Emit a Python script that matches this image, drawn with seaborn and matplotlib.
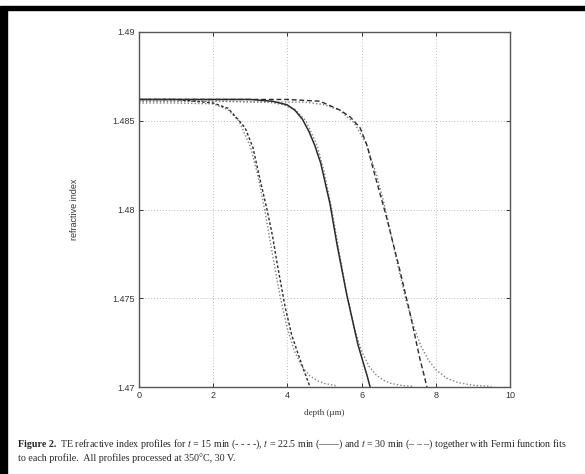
import seaborn as sns
import matplotlib.pyplot as plt
from matplotlib.patches import Rectangle

depth_15 = [0, 1.0, 2.0, 2.4, 2.7, 2.86, 3.07, 3.25, 3.45, 3.6, 3.72, 3.94, 4.12, 4.3, 4.45, 4.54, 4.61]
index_15 = [1.4862, 1.4862, 1.4860, 1.4857, 1.4850, 1.4846, 1.4835, 1.4818, 1.4800, 1.4785,
            1.4770, 1.4745, 1.4729, 1.4718, 1.4709, 1.4704, 1.4700]

depth_22 = [0, 1.0, 2.0, 3.0, 3.6, 3.99, 4.2, 4.4, 4.58, 4.74, 4.9, 5.15, 5.34, 5.6, 5.9, 6.04, 6.14, 6.23]
index_22 = [1.4862, 1.4862, 1.4862, 1.4862, 1.4861, 1.4859, 1.4856, 1.4851, 1.4844, 1.4836, 1.4826,
            1.4803, 1.4780, 1.4752, 1.4724, 1.4714, 1.4707, 1.4700]

depth_30 = [0, 1.0, 2.0, 3.0, 4.0, 4.88, 5.42, 5.7, 5.96, 6.15, 6.31, 6.68, 7.04, 7.30, 7.57, 7.68, 7.76]
index_30 = [1.4862, 1.4862, 1.4862, 1.4862, 1.4862, 1.4861, 1.4856, 1.4852, 1.4846, 1.4836, 1.4823,
            1.4795, 1.4765, 1.4742, 1.4716, 1.4707, 1.4700]

# Fermi function fits
fit_depth_15 = [0, 1.0, 2.0, 2.4, 2.7, 3.0, 3.2, 3.4, 3.6, 3.8, 4.0, 4.2, 4.4, 4.6, 4.8, 5.0, 5.3]
fit_index_15 = [1.4860, 1.4860, 1.48595, 1.48562, 1.48497, 1.48354, 1.48196, 1.47985, 1.47744,
                1.47514, 1.47328, 1.47197, 1.47113, 1.47064, 1.47036, 1.4702, 1.47008]

fit_depth_22 = [0, 2.0, 3.5, 3.9, 4.2, 4.5, 4.8, 5.0, 5.2, 5.4, 5.6, 5.8, 6.0, 6.2, 6.4, 6.6, 6.8, 7.1, 7.4]
fit_index_22 = [1.4861, 1.4861, 1.48604, 1.4859, 1.48564, 1.48499, 1.48361, 1.48205, 1.47996,
                1.47756, 1.47524, 1.47336, 1.47202, 1.47117, 1.47066, 1.47037, 1.4702, 1.47008, 1.47003]

fit_depth_30 = [0, 2.0, 4.5, 5.0, 5.4, 5.8, 6.1, 6.4, 6.6, 6.8, 7.0, 7.2, 7.4, 7.6, 7.8, 8.0, 8.3, 8.6, 9.0, 9.5]
fit_index_30 = [1.4861, 1.4861, 1.48604, 1.4859, 1.4856, 1.48488, 1.4838, 1.48199, 1.48038, 1.47853,
                1.47663, 1.47488, 1.47343, 1.47231, 1.47152, 1.47098, 1.47049, 1.47025, 1.4701, 1.47003]

x_ticks = [0, 2, 4, 6, 8, 10]
y_ticks = [1.47, 1.475, 1.48, 1.485, 1.49]
y_tick_labels = ["1.47", "1.475", "1.48", "1.485", "1.49"]

sns.set_theme(style="ticks")
plt.rcParams["font.family"] = ["Liberation Sans", "DejaVu Sans"]
plt.rcParams["mathtext.fontset"] = "stix"

fig = plt.figure(figsize=(5.85, 4.74), dpi=100)
ax = fig.add_axes([0.2376, 0.1835, 0.6342, 0.749])

ink = "#2b2b2b"
fit_ink = "#808080"

# fits first so the profiles sit on top
for fx, fy in [(fit_depth_15, fit_index_15), (fit_depth_22, fit_index_22), (fit_depth_30, fit_index_30)]:
    sns.lineplot(x=fx, y=fy, ax=ax, color=fit_ink, linewidth=1.0, linestyle=(0, (1, 1.5)),
                 sort=False, estimator=None)

sns.lineplot(x=depth_15, y=index_15, ax=ax, color=ink, linewidth=1.0,
             linestyle=(0, (2, 1.5)), sort=False, estimator=None)
sns.lineplot(x=depth_22, y=index_22, ax=ax, color=ink, linewidth=1.1,
             linestyle="-", sort=False, estimator=None)
sns.lineplot(x=depth_30, y=index_30, ax=ax, color=ink, linewidth=1.0,
             linestyle=(0, (3.5, 2)), sort=False, estimator=None)

ax.set_xlim(0, 10)
ax.set_ylim(1.47, 1.49)
ax.set_xticks(x_ticks)
ax.set_yticks(y_ticks)
ax.set_yticklabels(y_tick_labels)
ax.grid(True, color="#bdbdbd", linestyle=(0, (1, 2)), linewidth=0.7)
ax.tick_params(direction="in", length=3, width=0.7, top=True, right=True,
               labelsize=6.5, colors="#333333", pad=3)
for sp in ax.spines.values():
    sp.set_color("#555555")
    sp.set_linewidth(1.0)

ax.set_xlabel("depth (\u00b5m)", fontsize=6.5, color="#333333", labelpad=6,
              family=["Liberation Serif", "DejaVu Serif"])
ax.set_ylabel("refractive index", fontsize=6.5, color="#333333", labelpad=24)

# caption
cap_font = ["Liberation Serif", "DejaVu Serif"]
cap_size = 7.2
cap_y = 0.058
head = fig.text(0.031, cap_y, "Figure 2.", fontsize=cap_size, fontweight="bold",
                family=cap_font, ha="left", va="baseline")
fig.canvas.draw()
head_end = head.get_window_extent().x1 / fig.bbox.width
fig.text(head_end + 0.006, cap_y,
         "TE refractive index profiles for $t$ = 15 min (- - - -), "
         "$t$ = 22.5 min (\u2014\u2014) and $t$ = 30 min (\u2013 \u2013 \u2013) "
         "together with Fermi function fits",
         fontsize=cap_size, family=cap_font, ha="left", va="baseline")
fig.text(0.031, 0.027, "to each profile.  All profiles processed at 350\u00b0C, 30 V.",
         fontsize=cap_size, family=cap_font, ha="left", va="baseline")

# scan frame
fig.patches.append(Rectangle((0, 1 - 10 / 474), 1, 4 / 474, transform=fig.transFigure,
                             color="black", zorder=10))
fig.patches.append(Rectangle((0, 0), 7 / 585, 1 - 8 / 474, transform=fig.transFigure,
                             color="black", zorder=10))

plt.savefig("out.png", dpi=100)
